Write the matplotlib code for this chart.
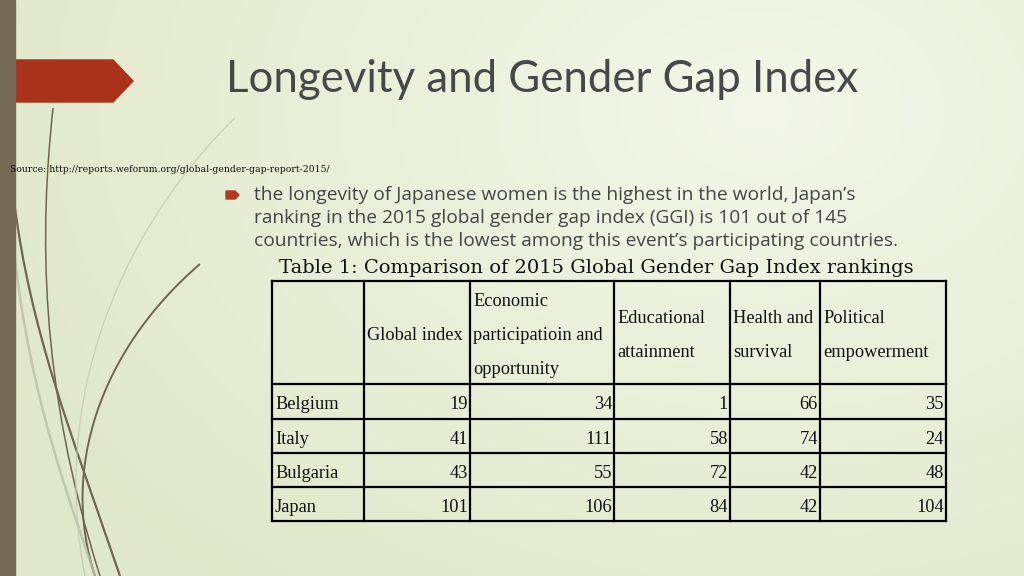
import numpy as np
import matplotlib
matplotlib.use("Agg")
import matplotlib.pyplot as plt
from matplotlib.path import Path
from matplotlib.patches import PathPatch, Polygon, Rectangle

# ---------------- data ----------------
title = "Longevity and Gender Gap Index"
source = "Source: http://reports.weforum.org/global-gender-gap-report-2015/"
bullet_lines = [
    "the longevity of Japanese women is the highest in the world, Japan\u2019s",
    "ranking in the 2015 global gender gap index (GGI) is 101 out of 145",
    "countries, which is the lowest among this event\u2019s participating countries.",
]
caption = "Table 1: Comparison of 2015 Global Gender Gap Index rankings"
countries = ["Belgium", "Italy", "Bulgaria", "Japan"]
columns = ["Global index", "Economic\nparticipatioin and\nopportunity",
           "Educational\nattainment", "Health and\nsurvival", "Political\nempowerment"]
global_index = [19, 41, 43, 101]
economic = [34, 111, 55, 106]
educational = [1, 58, 72, 84]
health = [66, 74, 42, 42]
political = [35, 24, 48, 104]

# ---------------- figure ----------------
fig = plt.figure(figsize=(10.24, 5.76), dpi=100)
ax = fig.add_axes([0, 0, 1, 1])
ax.set_xlim(0, 1024)
ax.set_ylim(576, 0)
ax.axis("off")

# background gradient
yy, xx = np.mgrid[0:576:4, 0:1024:4]
d = np.sqrt(((xx - 760) / 850.0) ** 2 + ((yy - 110) / 600.0) ** 2)
d = np.clip(d, 0, 1) ** 0.9
c_in = np.array([244, 247, 234]) / 255.0
c_out = np.array([224, 232, 202]) / 255.0
img = c_in[None, None, :] * (1 - d[..., None]) + c_out[None, None, :] * d[..., None]
ax.imshow(img, extent=(0, 1024, 576, 0), aspect="auto", zorder=0, interpolation="bilinear")

# decorative curves
def curve(pts, lw, color, alpha=1.0):
    codes = [Path.MOVETO] + [Path.CURVE4] * (len(pts) - 1)
    ax.add_patch(PathPatch(Path(pts, codes), fill=False, lw=lw, ec=color, alpha=alpha, zorder=1))

brown = "#6f6650"
curve([(53, 108), (40, 230), (38, 380), (100, 576)], 1.1, brown)
curve([(14, 200), (30, 330), (70, 430), (120, 576)], 1.6, brown)
curve([(200, 264), (100, 350), (60, 470), (95, 576)], 1.4, brown)
curve([(14, 250), (30, 400), (70, 500), (95, 576)], 1.8, "#b9bfa6", 0.8)
curve([(235, 118), (120, 230), (50, 400), (85, 576)], 1.0, "#c5cbb3", 0.8)

# left bar and red arrow
ax.add_patch(Rectangle((0, 0), 15, 576, color="#756b56", zorder=3))
ax.add_patch(Polygon([(0, 60), (113, 60), (133, 81), (113, 102), (0, 102)],
                     closed=True, color="#a8321a", zorder=2))

# title
ax.text(226, 80, title, fontsize=31.5, family="Lato", fontweight="normal",
        color="#484848", va="center", ha="left", zorder=4)

# source
ax.text(10, 170, source, fontsize=6.7, family="DejaVu Serif", color="#111111",
        va="center", ha="left", zorder=4)

# bullet
ax.add_patch(Polygon([(226, 191), (235, 191), (239, 195), (235, 199), (226, 199)],
                     closed=True, color="#b03a1f", zorder=4))
for i, line in enumerate(bullet_lines):
    ax.text(254, 195 + i * 23, line, fontsize=13.8, family="Open Sans",
            color="#454545", va="center", ha="left", zorder=4)

# caption
ax.text(596, 268, caption, fontsize=14, family="DejaVu Serif", color="#111111",
        va="center", ha="center", zorder=4)

# table
col_x = [272, 364, 470, 614, 730, 820, 946]
row_y = [281, 384, 419, 453, 487, 521]
for x in col_x:
    ax.plot([x, x], [row_y[0], row_y[-1]], color="black", lw=1.6, zorder=5,
            solid_capstyle="projecting")
for y in row_y:
    ax.plot([col_x[0], col_x[-1]], [y, y], color="black", lw=1.6, zorder=5,
            solid_capstyle="projecting")

tfont = dict(family="Liberation Serif", fontsize=13.2, color="#111111", zorder=6)
line_gap = 34.5
hdr_mid = (row_y[0] + row_y[1]) / 2 + 3
for j, col in enumerate(columns):
    parts = col.split("\n")
    n = len(parts)
    for k, p in enumerate(parts):
        y = hdr_mid + (k - (n - 1) / 2) * line_gap
        ax.text(col_x[j + 1] + 3, y, p, ha="left", va="center", **tfont)

series = [global_index, economic, educational, health, political]
for i, c in enumerate(countries):
    ymid = (row_y[i + 1] + row_y[i + 2]) / 2 + 3
    ax.text(col_x[0] + 3, ymid, c, ha="left", va="center", **tfont)
    for j, s in enumerate(series):
        ax.text(col_x[j + 2] - 2, ymid, str(s[i]), ha="right", va="center", **tfont)

fig.savefig("out.png", dpi=100)
